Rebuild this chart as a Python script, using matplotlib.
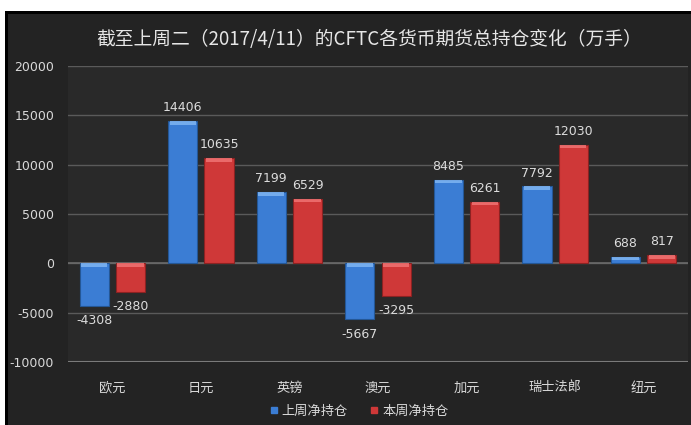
import matplotlib
matplotlib.use("Agg")
import matplotlib.pyplot as plt
from matplotlib.patches import Rectangle
from matplotlib.lines import Line2D
import numpy as np

plt.rcParams['font.family'] = ['Noto Sans CJK SC', 'DejaVu Sans']

title = "截至上周二（2017/4/11）的CFTC各货币期货总持仓变化（万手）"
categories = ["欧元", "日元", "英镑", "澳元", "加元", "瑞士法郎", "纽元"]
last_week = [-4308, 14406, 7199, -5667, 8485, 7792, 688]
this_week = [-2880, 10635, 6529, -3295, 6261, 12030, 817]
series_names = ["上周净持仓", "本周净持仓"]
yticks = [-10000, -5000, 0, 5000, 10000, 15000, 20000]

W, H = 691, 425
fig = plt.figure(figsize=(W / 100, H / 100), dpi=100, facecolor="white")

# dark frame
fig.patches.append(Rectangle((5 / W, 0), 1 - 5 / W, 1 - 11 / H, transform=fig.transFigure,
                             facecolor="#232323", edgecolor="none", zorder=-10))
fig.patches.append(Rectangle((5 / W, 1 - 13.5 / H), 1 - 5 / W, 2.5 / H, transform=fig.transFigure,
                             facecolor="#000000", edgecolor="none", zorder=-9))
fig.patches.append(Rectangle((5 / W, 0), 2.5 / W, 1 - 11 / H, transform=fig.transFigure,
                             facecolor="#000000", edgecolor="none", zorder=-9))

ax = fig.add_axes([68 / W, 1 - 362 / H, 620 / W, 296 / H])
ax.set_facecolor("#292929")
for s in ax.spines.values():
    s.set_visible(False)

x = np.arange(len(categories))
off = 0.205
bw = 0.33

colors = [("#3b7dd4", "#7fb5f2", "#245796"), ("#cf3838", "#f07373", "#8c2222")]
for vals, sgn, (c, hl, ec) in zip([last_week, this_week], [-1, 1], colors):
    xs = x + sgn * off
    ax.bar(xs, vals, width=bw, color=c, edgecolor=ec, linewidth=0.8, zorder=3)
    # bevel highlight at top edge of each bar
    tops = [max(v, 0) for v in vals]
    ax.bar(xs, [-min(350, abs(v)) for v in vals], bottom=tops, width=bw * 0.9,
           color=hl, edgecolor="none", zorder=4, alpha=0.85)
    for xi, v in zip(xs, vals):
        if v >= 0:
            ax.annotate(f"{v}", (xi, v), xytext=(0, 5), textcoords="offset points",
                        ha="center", va="bottom", fontsize=9, color="#dcdcdc",
                        family="DejaVu Sans", zorder=5)
        else:
            ax.annotate(f"{v}", (xi, v), xytext=(0, -6), textcoords="offset points",
                        ha="center", va="top", fontsize=9, color="#dcdcdc",
                        family="DejaVu Sans", zorder=5)

ax.set_xlim(-0.5, len(categories) - 0.5)
ax.set_ylim(-10000, 20000)
ax.set_yticks(yticks)
ax.set_yticklabels([str(t) for t in yticks], family="DejaVu Sans")
ax.grid(axis="y", color="#5a5a5a", linewidth=1, zorder=1)
ax.set_axisbelow(True)
ax.axhline(-10000, color="#7a7a7a", linewidth=1.5, zorder=2)
ax.axhline(0, color="#6a6a6a", linewidth=1.2, zorder=2)
ax.set_xticks(x)
ax.set_xticklabels(categories)
ax.tick_params(axis="both", length=0, colors="#d9d9d9", labelsize=9)
ax.tick_params(axis="x", pad=14, labelsize=9.5)
ax.tick_params(axis="y", pad=10)

fig.text(369 / W, 1 - 40 / H, title, ha="center", va="center", fontsize=13.5, color="#e6e6e6")

handles = [Line2D([], [], marker="s", linestyle="none", markersize=5, color=colors[0][0]),
           Line2D([], [], marker="s", linestyle="none", markersize=5, color=colors[1][0])]
leg = fig.legend(handles, series_names, loc="center", bbox_to_anchor=(358 / W, 1 - 411 / H),
                 ncol=2, frameon=False, fontsize=9.5, handletextpad=0.1, columnspacing=1.5,
                 handlelength=1.0, labelcolor="#d9d9d9")

fig.savefig("out.png", dpi=100, facecolor="white")
